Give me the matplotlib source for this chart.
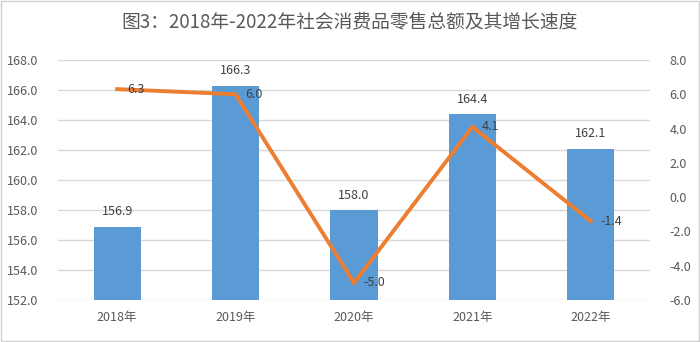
import matplotlib.pyplot as plt
import matplotlib.patches as mpatches

plt.rcParams['font.family'] = ['Noto Sans CJK SC', 'DejaVu Sans']

# 数据
years = ["2018年", "2019年", "2020年", "2021年", "2022年"]
retail_total = [156.9, 166.3, 158.0, 164.4, 162.1]
growth_rate = [6.3, 6.0, -5.0, 4.1, -1.4]

left_ticks = [152, 154, 156, 158, 160, 162, 164, 166, 168]
right_ticks = [-6, -4, -2, 0, 2, 4, 6, 8]

BAR_COLOR = "#5B9BD5"
LINE_COLOR = "#ED7D31"
TEXT_COLOR = "#595959"
GRID_COLOR = "#D9D9D9"

fig = plt.figure(figsize=(7.0, 3.42), dpi=100)
fig.patch.set_facecolor("white")
fig.patches.append(mpatches.Rectangle((0.002, 0.003), 0.996, 0.994, transform=fig.transFigure,
                                      fill=False, edgecolor="#D0D0D0", linewidth=1.0))

ax = fig.add_axes([58 / 700, 1 - 300 / 342, 592 / 700, 240 / 342])
ax2 = ax.twinx()

x = list(range(len(years)))
bars = ax.bar(x, retail_total, width=0.4, color=BAR_COLOR, zorder=2)
for xi, v in zip(x, retail_total):
    ax.annotate(f"{v:.1f}", xy=(xi, v), xytext=(0, 6), textcoords="offset points",
                ha="center", va="bottom", fontsize=9, color="#404040")

ax.set_ylim(152, 168)
ax.set_yticks(left_ticks)
ax.set_yticklabels([f"{t:.1f}" for t in left_ticks])
ax.set_xlim(-0.5, len(years) - 0.5)
ax.set_xticks(x)
ax.set_xticklabels(years)
ax.grid(axis="y", color=GRID_COLOR, linewidth=1.0, zorder=0)
ax.set_axisbelow(True)

ax2.plot(x, growth_rate, color=LINE_COLOR, linewidth=2.8, zorder=3, solid_joinstyle="miter")
for xi, v in zip(x, growth_rate):
    ax2.annotate(f"{v:.1f}", xy=(xi, v), xytext=(7, 0), textcoords="offset points",
                 ha="left", va="center", fontsize=9, color="#404040")
ax2.set_ylim(-6, 8)
ax2.set_yticks(right_ticks)
ax2.set_yticklabels([f"{t:.1f}" for t in right_ticks])

for a in (ax, ax2):
    for s in a.spines.values():
        s.set_visible(False)
    a.tick_params(length=0, labelsize=9, labelcolor=TEXT_COLOR)
ax.tick_params(axis="y", pad=14)
ax2.tick_params(axis="y", pad=14)
ax.tick_params(axis="x", pad=8)

fig.text(0.5, 0.935, "图3：2018年-2022年社会消费品零售总额及其增长速度",
         ha="center", va="center", fontsize=13.5, color=TEXT_COLOR)

fig.savefig("out.png", dpi=100, facecolor=fig.get_facecolor())
